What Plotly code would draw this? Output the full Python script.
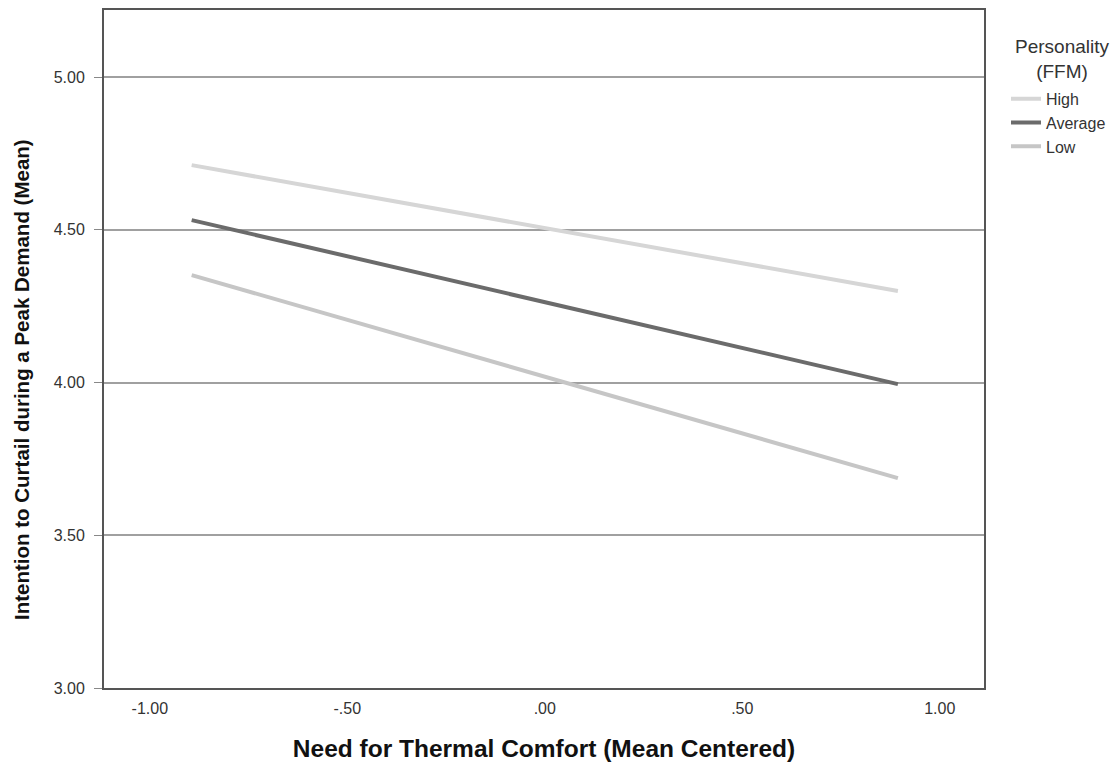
import plotly.graph_objects as go

# Simple slopes of intention vs. need for thermal comfort at three personality levels
x_vals = [-0.894, 0.894]
high = [4.712, 4.300]
average = [4.532, 3.995]
low = [4.352, 3.687]

series_names = ["High", "Average", "Low"]
series_values = [high, average, low]
series_colors = ["#d6d6d6", "#6b6b6b", "#c6c6c6"]

y_ticks = [3.0, 3.5, 4.0, 4.5, 5.0]
y_tick_text = ["3.00", "3.50", "4.00", "4.50", "5.00"]
x_ticks = [-1.0, -0.5, 0.0, 0.5, 1.0]
x_tick_text = ["-1.00", "-.50", ".00", ".50", "1.00"]

W, H = 1118, 767
ML, MR, MT, MB = 104, 134, 10, 79
PW, PH = W - ML - MR, H - MT - MB


def px_to_paper(px, py):
    """Convert page pixel coordinates to paper coordinates."""
    return (px - ML) / PW, (H - MB - py) / PH


fig = go.Figure()
for name, vals, col in zip(series_names, series_values, series_colors):
    fig.add_trace(go.Scatter(
        x=x_vals, y=vals, mode="lines", name=name,
        line=dict(color=col, width=4),
    ))

title_font = "Liberation Sans, Arial, sans-serif"

leg_title_x, leg_title_y = px_to_paper(1062, 59)
ytitle_x, ytitle_y = px_to_paper(21, 380)

fig.update_layout(
    width=W, height=H,
    margin=dict(l=ML, r=MR, t=MT, b=MB, autoexpand=False),
    paper_bgcolor="white", plot_bgcolor="white",
    font=dict(family="Liberation Sans, Arial, sans-serif", size=16, color="#333333"),
    showlegend=True,
    legend=dict(
        x=1.025, xanchor="left", y=0.894, yanchor="top",
        font=dict(size=16, color="#333333"),
        itemwidth=30, tracegroupgap=0,
        bgcolor="rgba(0,0,0,0)",
    ),
    annotations=[
        dict(text="Personality<br>(FFM)", x=leg_title_x, y=leg_title_y,
             xref="paper", yref="paper", xanchor="center", yanchor="middle",
             showarrow=False, align="center",
             font=dict(size=19, color="#333333")),
        dict(text="<b>Intention to Curtail during a Peak Demand (Mean)</b>",
             x=ytitle_x, y=ytitle_y, xref="paper", yref="paper",
             xanchor="center", yanchor="middle", textangle=-90,
             showarrow=False,
             font=dict(family=title_font, size=20.5, color="#111111")),
    ],
    xaxis=dict(
        range=[-1.116, 1.112],
        tickvals=x_ticks, ticktext=x_tick_text,
        showgrid=False, zeroline=False, automargin=False,
        showline=True, linecolor="#555555", linewidth=2, mirror=True,
        ticks="outside", ticklen=5, tickcolor="rgba(0,0,0,0)",
        tickfont=dict(size=16, color="#333333"),
        title=dict(text="<b>Need for Thermal Comfort (Mean Centered)</b>",
                   font=dict(family=title_font, size=24.5, color="#111111"),
                   standoff=24),
    ),
    yaxis=dict(
        range=[3.0, 5.22],
        tickvals=y_ticks, ticktext=y_tick_text,
        showgrid=True, gridcolor="#a0a0a0", gridwidth=1.5,
        zeroline=False, automargin=False,
        showline=True, linecolor="#555555", linewidth=2, mirror=True,
        ticks="outside", ticklen=8, tickcolor="#888888",
        ticklabelstandoff=6,
        tickfont=dict(size=16, color="#333333"),
    ),
)

fig.write_html("out.html")
